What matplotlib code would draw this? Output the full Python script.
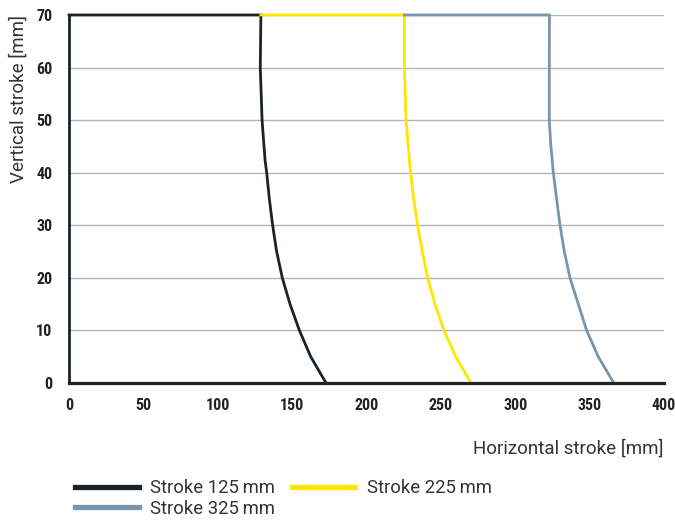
import matplotlib
matplotlib.use("Agg")
import matplotlib.pyplot as plt
from matplotlib.lines import Line2D

plt.rcParams['font.family'] = ['Roboto Condensed', 'Archivo Narrow', 'PT Sans Narrow',
                               'Liberation Sans Narrow', 'DejaVu Sans']
LABEL_FONT = ['Roboto', 'DejaVu Sans']

# Data
labels = ["Stroke 125\u2009mm", "Stroke 225\u2009mm", "Stroke 325\u2009mm"]
colors = ["#1b2329", "#ffe600", "#7896ab"]

y_125 = [70, 70, 60, 50, 42.4, 40, 35, 30, 25, 20, 15, 10, 5, 0]
x_125 = [0, 129.0, 128.6, 129.8, 131.8, 132.9, 134.7, 136.9, 139.6, 143.4, 148.6, 154.9, 162.5, 172.8]

y_225 = [70, 70, 60, 50, 42.4, 40, 35, 30, 25, 20, 15, 10, 5, 0]
x_225 = [129.0, 225.5, 225.5, 226.6, 228.8, 229.7, 231.7, 234.4, 237.5, 241.1, 246.1, 252.1, 260.0, 270.3]

y_325 = [70, 70, 60, 50, 45.6, 40, 35, 30, 25, 20, 15, 10, 5, 0]
x_325 = [225.5, 323.0, 322.9, 322.9, 323.8, 325.6, 327.8, 330.1, 333.0, 336.8, 342.4, 348.0, 355.8, 366.2]

x_ticks = [0, 50, 100, 150, 200, 250, 300, 350, 400]
y_ticks = [0, 10, 20, 30, 40, 50, 60, 70]

fig = plt.figure(figsize=(6.75, 5.2), dpi=100)
ax = fig.add_axes([0.1022, 0.2635, 0.8815, 0.7077])

ax.set_xlim(0, 400)
ax.set_ylim(0, 70)
ax.set_yticks(y_ticks)
ax.set_xticks(x_ticks)
ax.yaxis.grid(True, color="#b4b4b4", linewidth=1.0)
ax.set_axisbelow(True)

for xs, ys, c, lab in zip([x_125, x_225, x_325], [y_125, y_225, y_325], colors, labels):
    ax.plot(xs, ys, color=c, linewidth=2.0, label=lab,
            solid_joinstyle="miter", clip_on=False, zorder=3)

for s in ["top", "right"]:
    ax.spines[s].set_visible(False)
ax.spines["left"].set_color("#1b2329")
ax.spines["left"].set_linewidth(2.0)
ax.spines["bottom"].set_color("#222222")
ax.spines["bottom"].set_linewidth(2.3)
ax.spines["bottom"].set_zorder(4)

ax.tick_params(axis="both", length=0, labelsize=11.5, colors="#222222")
ax.tick_params(axis="x", pad=11)
ax.tick_params(axis="y", pad=12)
for t in ax.get_xticklabels() + ax.get_yticklabels():
    t.set_fontweight("bold")

ax.set_xlabel("Horizontal stroke [mm]", fontsize=13.5, color="#333333",
              family=LABEL_FONT, loc="right")
ax.xaxis.set_label_coords(1.0, -0.152)
ax.set_ylabel("Vertical stroke [mm]", fontsize=13.5, color="#333333",
              family=LABEL_FONT, loc="top")
ax.yaxis.set_label_coords(-0.069, 1.0)

handles = [Line2D([], [], color=colors[0], linewidth=3.8),
           Line2D([], [], color=colors[2], linewidth=3.8),
           Line2D([], [], color=colors[1], linewidth=3.8)]
leg_labels = [labels[0], labels[2], labels[1]]
fig.legend(handles, leg_labels, ncol=2, loc="upper left",
           bbox_to_anchor=(0.100, 0.093), bbox_transform=fig.transFigure,
           frameon=False, handlelength=3.45, handletextpad=0.62,
           columnspacing=0.9, labelspacing=0.15, borderaxespad=0,
           labelcolor="#333333",
           prop={'family': LABEL_FONT, 'size': 13.3})

fig.savefig("out.png", dpi=100)
